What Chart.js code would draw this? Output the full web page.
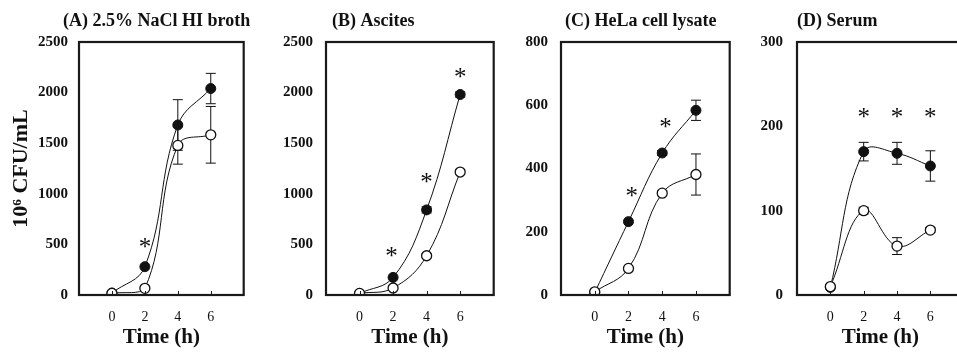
<!DOCTYPE html>
<html>
<head>
<meta charset="utf-8">
<script src="https://cdn.jsdelivr.net/npm/chart.js@4"></script>
<style>
  html, body { margin: 0; padding: 0; background: #fff; width: 957px; height: 354px; overflow: hidden; position: relative; }
  canvas { position: absolute; top: 0; }
</style>
</head>
<body>
<canvas id="pA" width="250" height="354" style="left:0px"></canvas>
<canvas id="pB" width="250" height="354" style="left:250px"></canvas>
<canvas id="pC" width="236" height="354" style="left:500px"></canvas>
<canvas id="pD" width="234" height="354" style="left:736px"></canvas>
<script>
// sampling times (h)
const timeH = [0, 2, 4, 6];

// (A) 2.5% NaCl HI broth
const brothFilled = [20, 280, 1680, 2040];
const brothFilledSd = [0, 0, 250, 150];
const brothOpen = [16, 66, 1478, 1583];
const brothOpenSd = [0, 0, 185, 280];
const brothStarX = [2];
const brothStarY = [510];

// (B) Ascites
const ascitesFilled = [16, 174, 841, 1981];
const ascitesFilledSd = [0, 0, 30, 25];
const ascitesOpen = [16, 69, 388, 1215];
const ascitesOpenSd = [0, 0, 20, 20];
const ascitesStarX = [1.9, 4, 6];
const ascitesStarY = [420, 1160, 2195];

// (C) HeLa cell lysate
const helaFilled = [8, 232, 449, 584];
const helaFilledSd = [0, 0, 8, 32];
const helaOpen = [10, 84, 322, 381];
const helaOpenSd = [0, 0, 8, 65];
const helaStarX = [2.2, 4.2];
const helaStarY = [325, 543];

// (D) Serum
const serumFilled = [9, 170, 168, 153];
const serumFilledSd = [0, 11, 13, 18];
const serumOpen = [10, 100, 58, 77];
const serumOpenSd = [0, 4, 10, 3];
const serumStarX = [2, 4, 6];
const serumStarY = [216, 216, 216];

const panels = [
  { id: 'pA', title: '(A) 2.5% NaCl HI broth', filled: brothFilled, filledSd: brothFilledSd, open: brothOpen, openSd: brothOpenSd, starX: brothStarX, starY: brothStarY, yMax: 2500, yStep: 500, yWidth: 79, right: 3, titleDx: -16, tickPad: 11, yTitle: true },
  { id: 'pB', title: '(B) Ascites', filled: ascitesFilled, filledSd: ascitesFilledSd, open: ascitesOpen, openSd: ascitesOpenSd, starX: ascitesStarX, starY: ascitesStarY, yMax: 2500, yStep: 500, yWidth: 76, right: 3, titleDx: 6, tickPad: 13 },
  { id: 'pC', title: '(C) HeLa cell lysate', filled: helaFilled, filledSd: helaFilledSd, open: helaOpen, openSd: helaOpenSd, starX: helaStarX, starY: helaStarY, yMax: 800, yStep: 200, yWidth: 61, right: 4, titleDx: 4, tickPad: 13 },
  { id: 'pD', title: '(D) Serum', filled: serumFilled, filledSd: serumFilledSd, open: serumOpen, openSd: serumOpenSd, starX: serumStarX, starY: serumStarY, yMax: 300, yStep: 100, yWidth: 61, right: 3, titleDx: 0, tickPad: 14 }
];

const SERIF = '"Liberation Serif", "Times New Roman", serif';

// frame, tick marks, error bars, asterisks, panel title
const decor = {
  id: 'decor',
  beforeDatasetsDraw(chart) {
    const ctx = chart.ctx, x = chart.scales.x, y = chart.scales.y;
    ctx.save();
    ctx.strokeStyle = '#111';
    ctx.lineWidth = 1;
    chart.data.datasets.forEach(ds => {
      if (!ds.sd) return;
      ds.data.forEach((p, i) => {
        const e = ds.sd[i];
        if (!e) return;
        const px = x.getPixelForValue(p.x);
        const y1 = y.getPixelForValue(p.y + e), y2 = y.getPixelForValue(p.y - e);
        ctx.beginPath();
        ctx.moveTo(px, y1); ctx.lineTo(px, y2);
        ctx.moveTo(px - 5, y1); ctx.lineTo(px + 5, y1);
        ctx.moveTo(px - 5, y2); ctx.lineTo(px + 5, y2);
        ctx.stroke();
      });
    });
    ctx.restore();
  },
  afterDraw(chart, args, opts) {
    const ctx = chart.ctx, a = chart.chartArea, x = chart.scales.x, y = chart.scales.y;
    ctx.save();
    ctx.strokeStyle = '#1a1a1a';
    ctx.lineWidth = 1;
    x.ticks.forEach(t => {
      const px = Math.round(x.getPixelForValue(t.value)) + 0.5;
      ctx.beginPath(); ctx.moveTo(px, a.bottom); ctx.lineTo(px, a.bottom - 4); ctx.stroke();
    });
    ctx.lineWidth = 2.2;
    ctx.strokeRect(a.left, a.top, a.right - a.left, a.bottom - a.top);

    ctx.fillStyle = '#111';
    ctx.font = '25px ' + SERIF;
    ctx.textAlign = 'center';
    ctx.textBaseline = 'alphabetic';
    const m = ctx.measureText('*');
    opts.starX.forEach((sx, i) => {
      const cy = y.getPixelForValue(opts.starY[i]);
      ctx.fillText('*', x.getPixelForValue(sx), cy + (m.actualBoundingBoxAscent - m.actualBoundingBoxDescent) / 2);
    });

    ctx.font = 'bold 18px ' + SERIF;
    ctx.textAlign = 'left';
    ctx.fillText(opts.title, a.left + opts.titleDx, 26);
    ctx.restore();
  }
};

panels.forEach(p => {
  new Chart(document.getElementById(p.id), {
    type: 'scatter',
    data: {
      datasets: [
        { label: 'open', data: timeH.map((t, i) => ({ x: t, y: p.open[i] })), sd: p.openSd, order: 0,
          showLine: true, borderColor: '#111', borderWidth: 1, tension: 0.4,
          pointRadius: 5, pointBackgroundColor: '#fff', pointBorderColor: '#111', pointBorderWidth: 1.3 },
        { label: 'filled', data: timeH.map((t, i) => ({ x: t, y: p.filled[i] })), sd: p.filledSd, order: 1,
          showLine: true, borderColor: '#111', borderWidth: 1, tension: 0.4,
          pointRadius: 5, pointBackgroundColor: '#111', pointBorderColor: '#111', pointBorderWidth: 1 }
      ]
    },
    options: {
      responsive: false,
      animation: false,
      layout: { padding: { top: 42, right: p.right, bottom: 0, left: 0 } },
      plugins: {
        legend: { display: false },
        tooltip: { enabled: false },
        decor: { title: p.title, titleDx: p.titleDx, starX: p.starX, starY: p.starY }
      },
      scales: {
        x: {
          type: 'linear', min: -2, max: 8,
          afterBuildTicks: s => { s.ticks = timeH.map(v => ({ value: v })); },
          afterFit: s => { s.height = 59; },
          grid: { display: false, drawTicks: false },
          border: { display: false },
          ticks: { color: '#111', padding: 14, maxRotation: 0, font: { family: SERIF, size: 14 } },
          title: { display: true, text: 'Time (h)', color: '#111', padding: { top: 0, bottom: 4 }, font: { family: SERIF, size: 21, weight: 'bold' } }
        },
        y: {
          min: 0, max: p.yMax,
          afterFit: s => { s.width = p.yWidth; },
          grid: { display: false, drawTicks: false },
          border: { display: false },
          ticks: { stepSize: p.yStep, color: '#111', padding: p.tickPad, callback: v => String(v), font: { family: SERIF, size: 15, weight: 'bold' } },
          title: { display: !!p.yTitle, text: '10⁶ CFU/mL', color: '#111', padding: { top: 8, bottom: 0 }, font: { family: SERIF, size: 22, weight: 'bold' } }
        }
      }
    },
    plugins: [decor]
  });
});
</script>
</body>
</html>
